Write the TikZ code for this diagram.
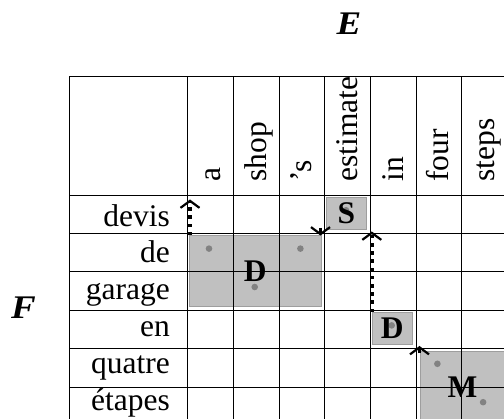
\documentclass[tikz,border=0pt]{standalone}
\usepackage{fontspec}
\setmainfont{Liberation Serif}
\usetikzlibrary{arrows.meta,calc}
\definecolor{boxfill}{RGB}{192,192,192}
\definecolor{boxline}{RGB}{158,158,158}
\definecolor{dotgray}{RGB}{130,130,130}
\begin{document}
\begin{tikzpicture}[x=1pt,y=-1pt,
  lbl/.style={inner sep=0pt, font=\fontsize{31.5pt}{36pt}\selectfont},
  axislbl/.style={lbl, font=\fontsize{33pt}{38pt}\selectfont\bfseries\itshape,
    xscale=1.12, transform shape},
  boxlbl/.style={lbl, font=\fontsize{31.5pt}{36pt}\selectfont\bfseries},
  gbox/.style={draw=boxline, fill=boxfill, line width=0.8pt, inner sep=0pt},
  gridline/.style={draw=black, line width=0.9pt},
  pt/.style={fill=dotgray},
  chevron/.style={line width=2.2pt, -{Straight Barb[length=7pt,width=19pt,line width=2.2pt]}},
  dotarrow/.style={line width=3.6pt, dash pattern=on 3.6pt off 4.6pt,
    -{Straight Barb[length=7pt,width=19pt,line width=2.2pt]}}]

\useasboundingbox (0,0) rectangle (504,419);
\clip (0,0) rectangle (504,419);

% alignment blocks
\node[gbox, minimum width=39.4pt, minimum height=31.8pt] (S) at (346.5,213.4) {};
\node[gbox, minimum width=132pt, minimum height=70.4pt] (Dbig) at (255.3,271) {};
\node[gbox, minimum width=39.4pt, minimum height=31.8pt] (Dsm) at (392.2,328.6) {};
\node[gbox, minimum width=85pt, minimum height=70.2pt] (M) at (462.6,387) {};

% grid
\draw[gridline] (69.3,76.7) rectangle (507.39,425.4);
\draw[gridline] (187.7,76.7) -- (187.7,425.4);
\foreach \i in {1,...,6}
  \draw[gridline] ({187.7+\i*45.67},76.7) -- ({187.7+\i*45.67},425.4);
\draw[gridline] (69.3,195) -- (507.39,195);
\foreach \j in {1,...,5}
  \draw[gridline] (69.3,{195+\j*38.4}) -- (507.39,{195+\j*38.4});

% link points
\foreach \p in {(346,210.2),(209,248.6),(300.4,248.6),(254.7,287),(391.7,325.4),(437.4,363.8),(483.1,402.2)}
  \fill[pt] \p circle (3.3);

% block letters
\node[boxlbl] at (S.center) {S};
\node[boxlbl] at (Dbig.center) {D};
\node[boxlbl] at (Dsm.center) {D};
\node[boxlbl] at (M.center) {M};

% axis names
\node[axislbl] (E) at (349,24) {E};
\node[axislbl] (F) at (23.5,307.5) {F};

% column words
\foreach \w [count=\k from 0] in {a,shop,’s,estimate,in,four,steps}
  \node[lbl, rotate=90, anchor=base west] (col\k) at ({220.4+\k*45.67},181.7) {\w};

% row words
\foreach \w [count=\k from 0] in {devis,de,garage,en,quatre,étapes}
  \node[lbl, anchor=base east] (row\k) at (170,{226.2+\k*36.8}) {\w};

% arrows
\coordinate (up1) at (190,199.5);
\coordinate (up3) at (371.8,231.5);
\coordinate (dn2) at (320.5,235.5);
\coordinate (up4) at (419.5,346);
\draw[dotarrow] (Dbig.north west -| up1) -- (up1);
\draw[dotarrow] (Dsm.north west -| up3) -- (up3);
\draw[chevron] ($(dn2)+(0,-7.5)$) -- (dn2);
\draw[chevron] ($(up4)+(0,7.5)$) -- (up4);
\end{tikzpicture}
\end{document}
